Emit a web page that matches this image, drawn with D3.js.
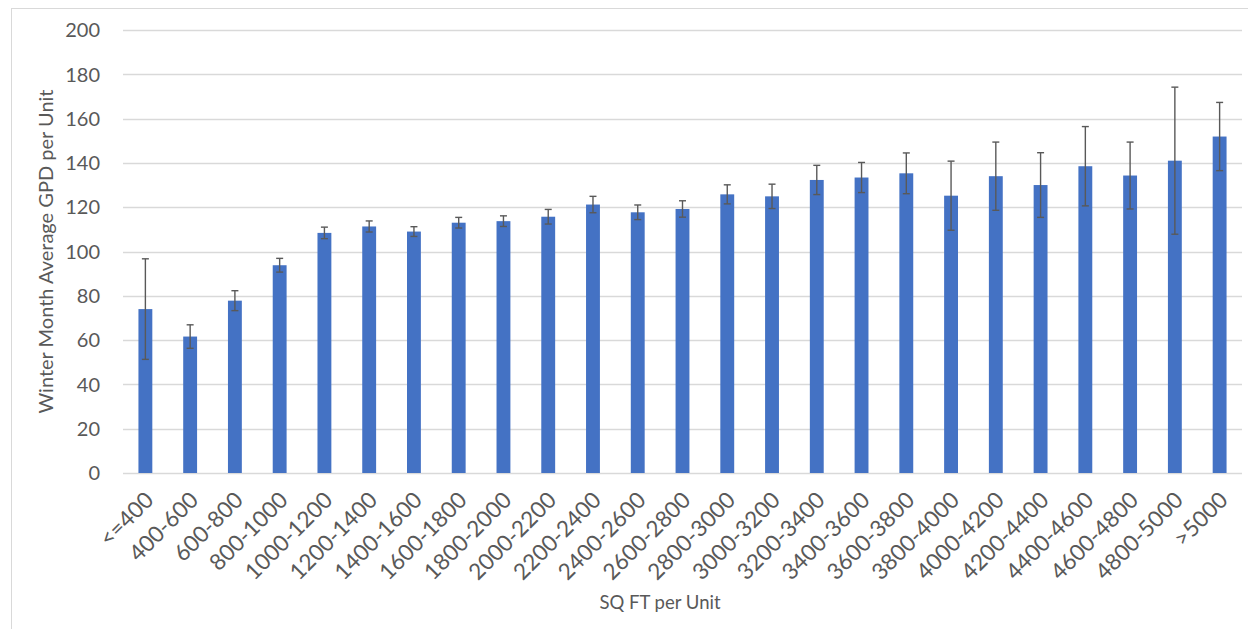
<!DOCTYPE html>
<html>
<head>
<meta charset="utf-8">
<script src="https://cdn.jsdelivr.net/npm/d3@7"></script>
<style>
  body { margin: 0; background: #fff; }
  svg text { font-family: Lato, "Open Sans", sans-serif; fill: #595959; }
</style>
</head>
<body>
<div id="chart"></div>
<script>
const categories = ['<=400', '400-600', '600-800', '800-1000', '1000-1200', '1200-1400',
  '1400-1600', '1600-1800', '1800-2000', '2000-2200', '2200-2400', '2400-2600',
  '2600-2800', '2800-3000', '3000-3200', '3200-3400', '3400-3600', '3600-3800',
  '3800-4000', '4000-4200', '4200-4400', '4400-4600', '4600-4800', '4800-5000', '>5000'];
const values = [74.0, 61.6, 77.8, 93.8, 108.4, 111.3, 109.0, 113.0, 113.7, 115.7,
  121.2, 117.7, 119.2, 125.8, 124.9, 132.3, 133.4, 135.3, 125.2, 134.0,
  130.0, 138.5, 134.3, 141.0, 151.9];
const errors = [22.7, 5.3, 4.5, 3.1, 2.6, 2.5, 2.2, 2.4, 2.4, 3.3,
  3.7, 3.3, 3.7, 4.3, 5.5, 6.6, 6.8, 9.2, 15.6, 15.4,
  14.6, 17.9, 15.1, 33.2, 15.4];
const yTicks = [0, 20, 40, 60, 80, 100, 120, 140, 160, 180, 200];

const W = 1248, H = 629;
const margin = { top: 30, right: 6, bottom: 156, left: 123 };
const width = W - margin.left - margin.right;
const height = H - margin.top - margin.bottom;

const svg = d3.select('#chart')
  .append('svg')
  .attr('width', W)
  .attr('height', H);

// chart area border (only top and left visible in frame)
svg.append('rect')
  .attr('x', 11.5).attr('y', 8.5)
  .attr('width', W).attr('height', H)
  .attr('fill', 'none')
  .attr('stroke', '#d9d9d9');

const g = svg.append('g')
  .attr('transform', 'translate(' + margin.left + ',' + margin.top + ')');

const x = d3.scaleBand().domain(categories).range([0, width]).paddingInner(0.69).paddingOuter(0.345);
const y = d3.scaleLinear().domain([0, 200]).range([height, 0]);

// gridlines
g.append('g')
  .selectAll('line')
  .data(yTicks)
  .enter()
  .append('line')
  .attr('x1', 0)
  .attr('x2', width)
  .attr('y1', (d) => Math.round(y(d)) + 0.5)
  .attr('y2', (d) => Math.round(y(d)) + 0.5)
  .attr('stroke', '#d9d9d9')
  .attr('stroke-width', 1.3);

// y tick labels
g.append('g')
  .selectAll('text')
  .data(yTicks)
  .enter()
  .append('text')
  .attr('x', -23)
  .attr('y', (d) => y(d))
  .attr('dy', '0.36em')
  .attr('text-anchor', 'end')
  .style('font-size', '20px')
  .text((d) => d);

// bars
const data = categories.map((c, i) => ({ cat: c, value: values[i], err: errors[i] }));

g.selectAll('.bar')
  .data(data)
  .enter()
  .append('rect')
  .attr('class', 'bar')
  .attr('x', (d) => x(d.cat))
  .attr('width', x.bandwidth())
  .attr('y', (d) => y(d.value))
  .attr('height', (d) => height - y(d.value))
  .attr('fill', '#4472c4');

// error bars
const eb = g.selectAll('.err')
  .data(data)
  .enter()
  .append('g')
  .attr('class', 'err')
  .attr('stroke', '#595959')
  .attr('stroke-width', 1.4);

const cx = (d) => x(d.cat) + x.bandwidth() / 2;

eb.append('line')
  .attr('x1', cx).attr('x2', cx)
  .attr('y1', (d) => y(d.value + d.err))
  .attr('y2', (d) => y(d.value - d.err));
eb.append('line')
  .attr('x1', (d) => cx(d) - 3.5).attr('x2', (d) => cx(d) + 3.5)
  .attr('y1', (d) => y(d.value + d.err))
  .attr('y2', (d) => y(d.value + d.err));
eb.append('line')
  .attr('x1', (d) => cx(d) - 3.5).attr('x2', (d) => cx(d) + 3.5)
  .attr('y1', (d) => y(d.value - d.err))
  .attr('y2', (d) => y(d.value - d.err));

// x tick labels
g.append('g')
  .selectAll('text')
  .data(categories)
  .enter()
  .append('text')
  .attr('transform', (d) => 'translate(' + (x(d) + x.bandwidth() / 2 + 4) + ',' + (height + 23) + ') rotate(-45)')
  .attr('text-anchor', 'end')
  .attr('dy', '0.35em')
  .style('font-size', '22.5px')
  .text((d) => d);

// axis titles
svg.append('text')
  .attr('x', 660)
  .attr('y', 609)
  .attr('text-anchor', 'middle')
  .style('font-size', '18.5px')
  .text('SQ FT per Unit');

svg.append('text')
  .attr('transform', 'translate(53,' + (margin.top + height / 2) + ') rotate(-90)')
  .attr('text-anchor', 'middle')
  .style('font-size', '20px')
  .text('Winter Month Average GPD per Unit');
</script>
</body>
</html>
